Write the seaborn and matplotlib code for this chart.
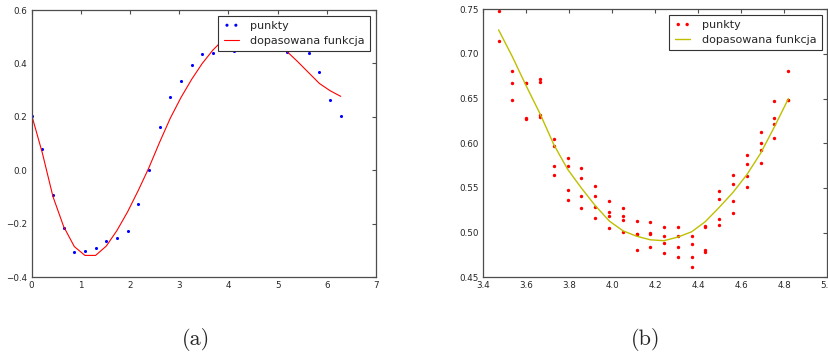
import matplotlib
matplotlib.use('Agg')
import matplotlib.pyplot as plt
import seaborn as sns

# ── Data ──────────────────────────────────────────────────────────
# (a) points and fitted curve
x_a = [0.000, 0.217, 0.433, 0.650, 0.867, 1.083, 1.300, 1.517, 1.733, 1.950,
       2.167, 2.383, 2.600, 2.817, 3.033, 3.250, 3.467, 3.683, 3.900, 4.117,
       4.333, 4.550, 4.767, 4.983, 5.200, 5.417, 5.633, 5.850, 6.067, 6.283]
pts_a = [0.203, 0.080, -0.092, -0.217, -0.306, -0.303, -0.290, -0.263, -0.253, -0.227,
         -0.127, 0.000, 0.162, 0.275, 0.336, 0.396, 0.437, 0.438, 0.450, 0.448,
         0.500, 0.490, 0.452, 0.470, 0.442, 0.460, 0.438, 0.369, 0.265, 0.205]
fit_a = [0.207, 0.065, -0.098, -0.210, -0.285, -0.318, -0.318, -0.283, -0.225, -0.155,
         -0.075, 0.010, 0.105, 0.195, 0.272, 0.340, 0.400, 0.450, 0.490, 0.515,
         0.525, 0.520, 0.505, 0.478, 0.443, 0.405, 0.365, 0.325, 0.298, 0.277]

# (b) points (several per x) and fitted curve
x_b = [3.471, 3.535, 3.598, 3.664, 3.729, 3.792, 3.856, 3.918, 3.986, 4.050, 4.113,
       4.177, 4.240, 4.304, 4.369, 4.431, 4.496, 4.561, 4.626, 4.690, 4.753, 4.819]
pts_b = [
    [0.748, 0.715],
    [0.681, 0.668, 0.649],
    [0.668, 0.667, 0.628, 0.627],
    [0.672, 0.669, 0.632, 0.629],
    [0.605, 0.597, 0.575, 0.564],
    [0.583, 0.575, 0.548, 0.536],
    [0.572, 0.561, 0.541, 0.528],
    [0.552, 0.541, 0.529, 0.516],
    [0.535, 0.523, 0.519, 0.505],
    [0.528, 0.519, 0.514, 0.501],
    [0.513, 0.499, 0.498, 0.481],
    [0.512, 0.500, 0.498, 0.484],
    [0.506, 0.496, 0.488, 0.477],
    [0.506, 0.496, 0.484, 0.473],
    [0.496, 0.487, 0.473, 0.462],
    [0.507, 0.506, 0.481, 0.478],
    [0.547, 0.538, 0.515, 0.509],
    [0.564, 0.554, 0.535, 0.522],
    [0.587, 0.577, 0.563, 0.551],
    [0.613, 0.600, 0.592, 0.578],
    [0.647, 0.628, 0.622, 0.606],
    [0.681, 0.649, 0.648],
]
fit_b = [0.727, 0.697, 0.665, 0.633, 0.598, 0.571, 0.550, 0.531, 0.513, 0.502, 0.496,
         0.492, 0.491, 0.495, 0.501, 0.512, 0.528, 0.545, 0.565, 0.589, 0.618, 0.650]

label_pts = 'punkty'
label_fit = 'dopasowana funkcja'

# ── Style ─────────────────────────────────────────────────────────
sns.set_style('white')
plt.rcParams['font.family'] = ['DejaVu Sans']

fig = plt.figure(figsize=(8.29, 3.56), dpi=100)
ax_a = fig.add_axes([0.0382, 0.221, 0.4154, 0.7509])
ax_b = fig.add_axes([0.583, 0.221, 0.415, 0.7529])


def style_axes(ax):
    for sp in ax.spines.values():
        sp.set_color('0.3')
        sp.set_linewidth(0.9)
    ax.tick_params(direction='in', top=True, right=True, length=3, width=0.8,
                   color='0.3', labelsize=6.3, labelcolor='0.15', pad=3)


def add_legend(ax):
    leg = ax.legend(loc='upper right', scatterpoints=2, scatteryoffsets=[0.5],
                    fontsize=8, frameon=True, fancybox=False, framealpha=1,
                    edgecolor='0.2', handlelength=1.4, borderpad=0.5,
                    labelspacing=0.4, handletextpad=1.0, borderaxespad=0.5)
    leg.get_frame().set_linewidth(0.8)


# (a)
sns.scatterplot(x=x_a, y=pts_a, ax=ax_a, color='b', s=5, linewidth=0, label=label_pts)
sns.lineplot(x=x_a, y=fit_a, ax=ax_a, color='r', lw=0.8, estimator=None, sort=False,
             label=label_fit)
ax_a.set_xlim(0, 7)
ax_a.set_ylim(-0.4, 0.6)
ax_a.set_xticks(range(0, 8))
ax_a.set_yticks([-0.4, -0.2, 0.0, 0.2, 0.4, 0.6])
style_axes(ax_a)
add_legend(ax_a)

# (b)
bx = [x for x, col in zip(x_b, pts_b) for _ in col]
by = [y for col in pts_b for y in col]
sns.scatterplot(x=bx, y=by, ax=ax_b, color='r', s=6, linewidth=0, label=label_pts)
sns.lineplot(x=x_b, y=fit_b, ax=ax_b, color=(0.75, 0.75, 0), lw=1.0, estimator=None,
             sort=False, label=label_fit)
ax_b.set_xlim(3.4, 5.0)
ax_b.set_ylim(0.45, 0.75)
ax_b.set_xticks([3.4, 3.6, 3.8, 4.0, 4.2, 4.4, 4.6, 4.8, 5.0])
ax_b.set_yticks([0.45, 0.50, 0.55, 0.60, 0.65, 0.70, 0.75])
style_axes(ax_b)
add_legend(ax_b)

# subfigure captions
fig.text(0.236, 0.045, '(a)', family='cmr10', fontsize=16, ha='center', va='center')
fig.text(0.779, 0.045, '(b)', family='cmr10', fontsize=16, ha='center', va='center')

fig.savefig('out.png', dpi=100)
